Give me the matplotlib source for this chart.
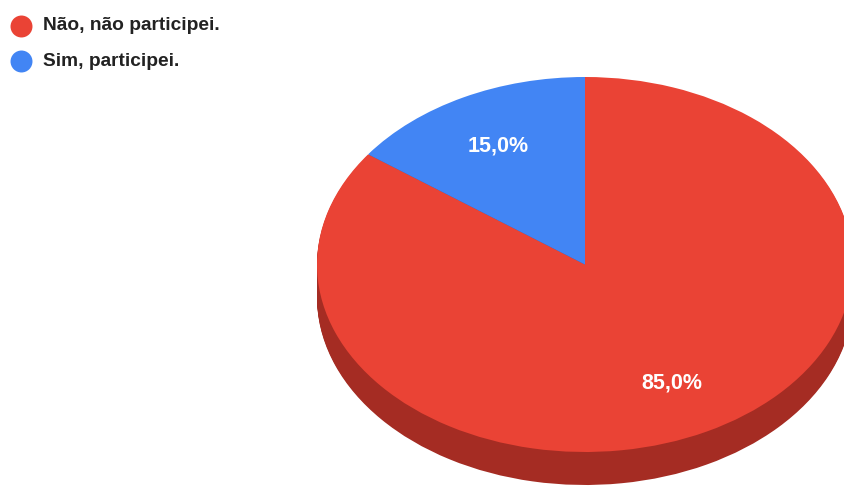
import numpy as np
import matplotlib
matplotlib.use("Agg")
from matplotlib import pyplot as plt

# data
labels = ["Não, não participei.", "Sim, participei."]
values = [85.0, 15.0]
colors = ["#EA4335", "#4285F4"]
side_colors = ["#A52C23", "#2A5CB0"]

W, H = 844, 486
rx, ry = 268.0, 187.5       # pie radii in pixels
cx, cy = 585.0, 264.5       # centre of the top face (pixels from top-left)
depth = 33.0                # thickness of the pie in pixels
K = ry / rx                 # vertical squash

def to_data(xp, yp):
    return xp, (H - yp) / K

fig = plt.figure(figsize=(W / 100, H / 100), dpi=100)
ax = fig.add_axes([0, 0, 1, 1])

# side of the pie: darker copies stacked downwards
for d in np.arange(depth, 0, -1.0):
    ax.pie(values, colors=side_colors, startangle=90, counterclock=False,
           radius=rx, center=to_data(cx, cy + d),
           wedgeprops=dict(linewidth=0, antialiased=True))

# top face with labels
wedges, texts, autotexts = ax.pie(
    values, colors=colors, startangle=90, counterclock=False,
    radius=rx, center=to_data(cx, cy),
    autopct=lambda p: f"{p:.1f}%".replace(".", ","), pctdistance=0.71,
    wedgeprops=dict(linewidth=0),
    textprops=dict(color="white", fontsize=15.5, fontweight="bold",
                   family="Liberation Sans"))

# legend
for i, (lab, col) in enumerate(zip(labels, colors)):
    yp = 26 + 35 * i
    ax.scatter(*to_data(21, yp), s=250, color=col, linewidths=0, zorder=5)
    ax.text(*to_data(43, yp), lab, fontsize=13.8, fontweight="bold",
            color="#222222", va="center", ha="left", family="Liberation Sans")

ax.set_aspect("auto")
ax.set_xlim(0, W)
ax.set_ylim(0, H / K)
ax.axis("off")

fig.savefig("out.png", dpi=100)
